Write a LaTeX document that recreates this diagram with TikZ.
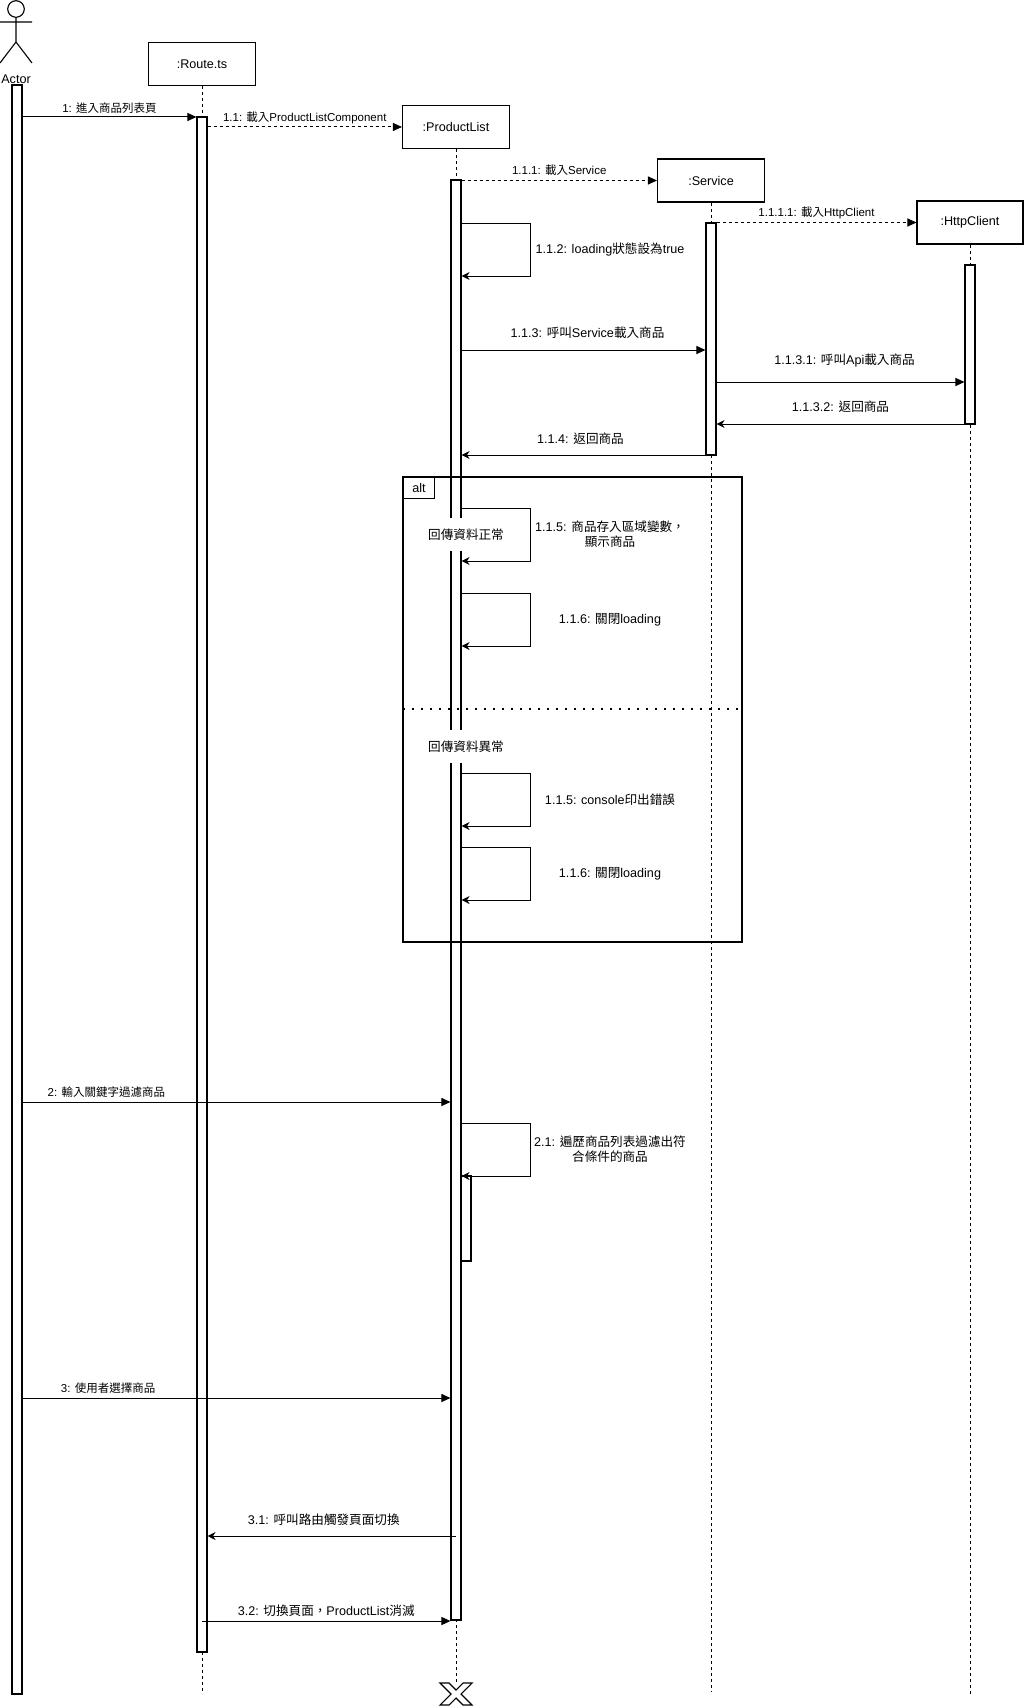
\documentclass[tikz,border=0pt]{standalone}
\usepackage{fontspec}
\setmainfont{Liberation Sans}
\newfontfamily\cjkfont[Script=CJK,Language=Chinese Traditional]{Noto Sans CJK TC}
\newcommand{\zh}[1]{{\cjkfont #1}}
\usetikzlibrary{arrows.meta}
\tikzstyle{obj}=[draw,line width=1.1pt,minimum width=107pt,minimum height=43pt,font=\fontsize{12.6}{14}\selectfont]
\tikzstyle{bar}=[draw,fill=white,line width=1.1pt,minimum width=10pt,inner sep=0pt]
\tikzstyle{life}=[line width=1pt,dash pattern=on 3pt off 3pt]
\tikzstyle{call}=[line width=1pt,-{Triangle[length=9pt,width=8pt]}]
\tikzstyle{create}=[call,dash pattern=on 3pt off 3pt]
\tikzstyle{ret}=[line width=1pt,-{Stealth[length=8pt,width=8pt,inset=2.5pt]}]
\tikzstyle{lblS}=[font=\fontsize{11.5}{13}\selectfont,inner sep=1pt]
\tikzstyle{lblL}=[font=\fontsize{12.6}{15}\selectfont,align=center,inner sep=1pt]

\begin{document}
\begin{tikzpicture}[x=1pt,y=-1pt]
    \useasboundingbox (0,0) rectangle (1024,1707);

    \node[circle,draw,line width=1.1pt,minimum size=16.6pt,inner sep=0pt] (head) at (16,9) {};
    \draw [line width=1.1pt] (head.south) -- (16,42) (0,22) -- (32,22) (0,63) -- (16,42) -- (32,63);
    \node[font=\fontsize{12.6}{14}\selectfont] (actor) at (16,79) {Actor};

    \node[obj] (oRoute) at (202,64) {:Route.ts};
    \node[obj] (oList) at (456,127) {:ProductList};
    \node[obj] (oService) at (711,180.5) {:Service};
    \node[obj,minimum width=106pt] (oHttp) at (970,222.5) {:HttpClient};

    \draw [life] (oRoute.south) -- (oRoute.south |- 0,1694);
    \draw [life] (oList.south) -- (oList.south |- 0,1683);
    \draw [life] (oService.south) -- (oService.south |- 0,1692);
    \draw [life] (oHttp.south) -- (oHttp.south |- 0,1694);

    \node[bar,minimum height=1609pt] (aActor) at (17,889.5) {};
    \node[bar,minimum height=1535pt] (aRoute) at (202,884.5) {};
    \node[bar,minimum height=1440pt] (aList) at (456,900) {};
    \node[bar,minimum height=232pt] (aService) at (711,339) {};
    \node[bar,minimum height=159pt] (aHttp) at (970,344.5) {};
    \node[bar,minimum height=85pt] (aNested) at (466,1218.5) {};

    \draw [call] (aActor.east |- 0,117) -- (aRoute.west |- 0,117) node[lblS,midway,yshift=9pt] (m1) {1: \zh{進入商品列表頁}};
    \draw [create] (aRoute.east |- 0,127) -- (oList.west) node[lblS,midway,yshift=9pt] (m11) {1.1: \zh{載入}ProductListComponent};
    \draw [create] (aList.east |- 0,180.5) -- (oService.west) node[lblS,midway,yshift=10pt] (m111) {1.1.1: \zh{載入}Service};
    \draw [create] (aService.east |- 0,222.5) -- (oHttp.west) node[lblS,midway,yshift=10pt] (m1111) {1.1.1.1: \zh{載入}HttpClient};
    \draw [call] (aList.east |- 0,350) -- (aService.west |- 0,350) node[lblL,midway,xshift=4pt,yshift=17pt] (m113) {1.1.3: \zh{呼叫}Service\zh{載入商品}};
    \draw [call] (aService.east |- 0,382) -- (aHttp.west |- 0,382) node[lblL,midway,xshift=4pt,yshift=22pt] (m1131) {1.1.3.1: \zh{呼叫}Api\zh{載入商品}};
    \draw [ret] (aHttp.west |- 0,424) -- (aService.east |- 0,424) node[lblL,midway,yshift=17pt] (m1132) {1.1.3.2: \zh{返回商品}};
    \draw [ret] (aService.west |- 0,455) -- (aList.east |- 0,455) node[lblL,midway,xshift=-3pt,yshift=16pt] (m114) {1.1.4: \zh{返回商品}};

    \draw [line width=1.1pt] (403,477) rectangle (742,942);
    \node[draw,line width=1.1pt,anchor=north west,minimum width=31pt,minimum height=21pt,inner sep=0pt,font=\fontsize{12.6}{14}\selectfont] (alt) at (403,477) {alt};
    \draw [line width=1.6pt,dash pattern=on 1.6pt off 7.4pt] (alt.west |- 0,709) -- (742,709);
    \node[fill=white,lblL,minimum height=33pt] (g1) at (466,534.5) {\zh{回傳資料正常}};
    \node[fill=white,lblL,minimum height=33pt] (g2) at (466,746.5) {\zh{回傳資料異常}};

    \foreach \t/\txt in {223/{1.1.2: loading\zh{狀態設為}true},508/{1.1.5: \zh{商品存入區域變數，}\\\zh{顯示商品}},593/{1.1.6: \zh{關閉}loading},773/{1.1.5: console\zh{印出錯誤}},847/{1.1.6: \zh{關閉}loading},1123/{2.1: \zh{遍歷商品列表過濾出符}\\\zh{合條件的商品}}}{
        \draw [ret] (aList.east |- 0,\t) -- ++(69,0) -- ++(0,53) -- ++(-69,0);
        \node[lblL] (s\t) at (610,\t+26.5) {\txt};
    }

    \draw [call] (aActor.east |- 0,1102) -- (aList.west |- 0,1102) node[lblS,pos=0.196,yshift=10pt] (m2) {2: \zh{輸入關鍵字過濾商品}};
    \draw [call] (aActor.east |- 0,1398) -- (aList.west |- 0,1398) node[lblS,pos=0.2,yshift=10pt] (m3) {3: \zh{使用者選擇商品}};
    \draw [ret] (aList.center |- 0,1536) -- (aRoute.east |- 0,1536) node[lblL,midway,xshift=-8pt,yshift=16pt] (m31) {3.1: \zh{呼叫路由觸發頁面切換}};
    \draw [call] (aRoute.center |- 0,1621) -- (aList.west |- 0,1621) node[lblL,midway,yshift=10pt] (m32) {3.2: \zh{切換頁面，}ProductList\zh{消滅}};

    \draw [line width=1.1pt,shift={(456,1694)}] (-16,-11) -- (-7,-11) -- (0,-4) -- (7,-11) -- (16,-11) -- (5,0) -- (16,11) -- (7,11) -- (0,4) -- (-7,11) -- (-16,11) -- (-5,0) -- cycle;
\end{tikzpicture}
\end{document}
